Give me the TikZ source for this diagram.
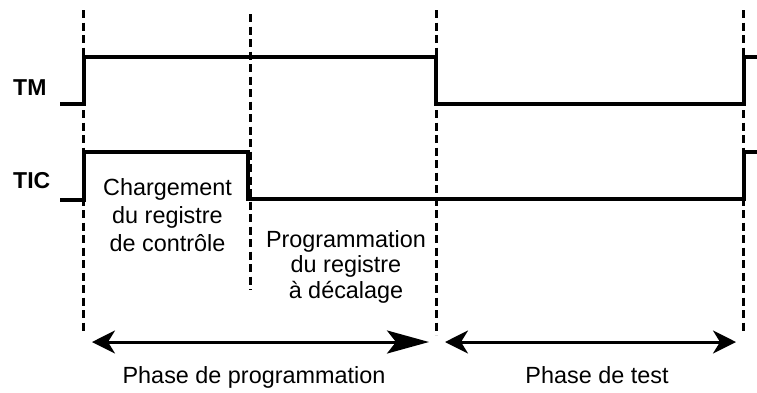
\documentclass[tikz,border=0pt]{standalone}
\usepackage{fontspec}
\setmainfont{Liberation Sans}
\usetikzlibrary{arrows.meta}
\begin{document}
\begin{tikzpicture}[x=1pt,y=-1pt,
  signal/.style={line width=3.2pt,line join=miter},
  guideline/.style={line width=3pt,dash pattern=on 8pt off 4.5pt},
  headn/.tip={Stealth[length=23pt,width=23pt,inset=7pt]},
  headlong/.tip={Stealth[length=42pt,width=23pt,inset=9pt]},
  phasearrow/.style={line width=3pt},
  lbl/.style={font=\fontsize{23.4}{28}\selectfont,inner sep=0pt,anchor=base},
  sig/.style={font=\fontsize{23}{28}\selectfont\bfseries,inner sep=0pt,anchor=base west}]
\useasboundingbox (0,0) rectangle (757,392);
% guides
\draw[guideline] (83,10) -- (83,332);
\draw[guideline] (250,14) -- (250,290);
\draw[guideline] (436,10) -- (436,335);
\draw[guideline] (743,10) -- (743,333);
% signals
\draw[signal] (60,104) -- (84,104) -- (84,57) -- (436,57) -- (436,104) -- (744,104) -- (744,57) -- (757,57);
\draw[signal] (60,200) -- (84,200) -- (84,152) -- (248,152) -- (248,199) -- (744,199) -- (744,152) -- (757,152);
% labels
\node[sig] (tm) at (13,95) {TM};
\node[sig] (tic) at (13,188) {TIC};
\node[lbl,align=center] (charg) at (167.5,251) {Chargement\\du registre\\de contrôle};
\node[lbl,align=center,font=\fontsize{23.4}{25.5}\selectfont] (prog) at (346,298) {Programmation\\du registre\\à décalage};
% phases
\coordinate (a1) at (92,342);
\coordinate (a2) at (429,342);
\coordinate (b1) at (445,342);
\coordinate (b2) at (736,342);
\draw[phasearrow,headn-headlong] (a1) -- (a2);
\draw[phasearrow,headn-headn] (b1) -- (b2);
\node[lbl] (p1) at (254,383) {Phase de programmation};
\node[lbl] (p2) at (597,383) {Phase de test};
\end{tikzpicture}
\end{document}
